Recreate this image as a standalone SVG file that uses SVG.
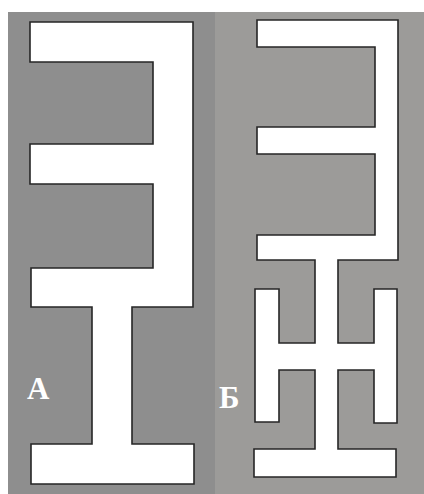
<svg xmlns="http://www.w3.org/2000/svg" width="424" height="494" viewBox="0 0 424 494">
  <style>
    .shape { fill: #ffffff; stroke: #262626; stroke-width: 1.6; stroke-linejoin: miter; }
    .label { font-family: "Liberation Serif", "Times New Roman", serif; font-weight: bold; font-size: 31px; fill: #ffffff; }
  </style>
  <rect x="0" y="0" width="424" height="494" fill="#ffffff"/>
  <g id="panel-a">
    <rect x="8" y="12" width="207" height="482" fill="#8e8e8e"/>
    <polygon class="shape" points="30,22 193,22 193,307 132,307 132,444 194,444 194,484 31,484 31,444 92,444 92,307 31,307 31,268 153,268 153,184 30,184 30,144 153,144 153,62 30,62"/>
    <text class="label" x="27" y="399">А</text>
  </g>
  <g id="panel-b">
    <rect x="215" y="12" width="209" height="482" fill="#9c9b99"/>
    <polygon class="shape" points="257,20 398,20 398,260 338,260 338,343 374,343 374,289 397,289 397,423 374,423 374,370 338,370 338,449 396,449 396,477 254,477 254,449 315,449 315,370 279,370 279,422 255,422 255,289 279,289 279,343 315,343 315,260 257,260 257,235 375,235 375,154 257,154 257,127 375,127 375,47 257,47"/>
    <text class="label" x="219" y="408">Б</text>
  </g>
</svg>
